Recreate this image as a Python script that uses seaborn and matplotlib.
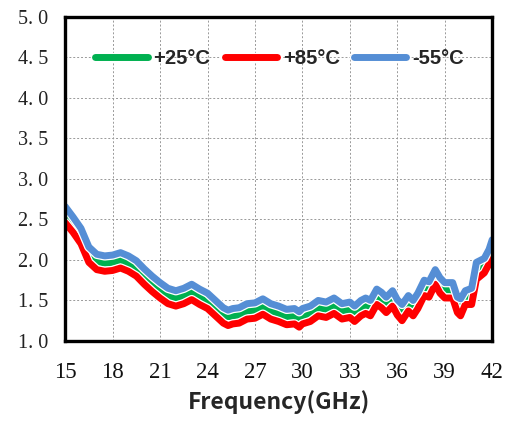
import matplotlib
matplotlib.use("Agg")
import matplotlib.pyplot as plt
import matplotlib.patheffects as pe
import seaborn as sns
import pandas as pd

freq = [15.0,15.5,16.0,16.5,17.0,17.5,18.0,18.5,19.0,19.5,
        20.0,20.5,21.0,21.5,22.0,22.5,23.0,23.5,24.0,24.5,
        25.0,25.3,25.6,26.0,26.5,27.0,27.5,28.0,28.5,29.0,
        29.5,29.8,30.0,30.5,31.0,31.5,32.0,32.5,33.0,33.3,
        33.7,34.0,34.3,34.7,35.0,35.3,35.7,36.0,36.3,36.7,
        37.0,37.3,37.7,38.0,38.4,38.7,39.0,39.5,39.8,40.0,
        40.3,40.7,41.0,41.5,41.8,42.0]

t25 = [2.57,2.44,2.30,2.07,1.98,1.96,1.97,2.00,1.96,1.90,
       1.80,1.71,1.63,1.56,1.53,1.56,1.61,1.55,1.50,1.41,
       1.32,1.29,1.31,1.32,1.37,1.38,1.43,1.37,1.34,1.30,
       1.31,1.27,1.31,1.34,1.41,1.39,1.44,1.37,1.39,1.34,
       1.41,1.44,1.41,1.55,1.51,1.45,1.53,1.42,1.36,1.47,
       1.41,1.50,1.66,1.64,1.80,1.69,1.63,1.63,1.45,1.42,
       1.53,1.55,1.88,1.93,2.03,2.13]

t85 = [2.46,2.34,2.20,1.97,1.88,1.86,1.87,1.90,1.86,1.80,
       1.70,1.61,1.53,1.46,1.43,1.46,1.51,1.45,1.40,1.31,
       1.22,1.19,1.21,1.22,1.27,1.28,1.33,1.27,1.24,1.20,
       1.21,1.17,1.21,1.24,1.31,1.29,1.34,1.27,1.29,1.24,
       1.31,1.34,1.31,1.45,1.41,1.35,1.43,1.32,1.25,1.37,
       1.31,1.40,1.56,1.54,1.70,1.59,1.53,1.53,1.35,1.31,
       1.45,1.45,1.76,1.84,1.95,2.05]

tm55 = [2.66,2.53,2.39,2.16,2.07,2.05,2.06,2.09,2.05,1.99,
        1.89,1.80,1.72,1.65,1.62,1.65,1.70,1.64,1.59,1.50,
        1.41,1.38,1.40,1.41,1.46,1.47,1.52,1.46,1.43,1.39,
        1.40,1.36,1.40,1.43,1.50,1.48,1.53,1.46,1.48,1.43,
        1.50,1.53,1.50,1.64,1.60,1.54,1.62,1.51,1.45,1.56,
        1.50,1.59,1.75,1.73,1.88,1.78,1.72,1.72,1.54,1.52,
        1.62,1.65,1.97,2.02,2.13,2.25]

series_names = ["+25°C", "+85°C", "-55°C"]
colors = ["#00B050", "#FF0000", "#558ED5"]
x_ticks = [15, 18, 21, 24, 27, 30, 33, 36, 39, 42]
y_ticks = [1.0, 1.5, 2.0, 2.5, 3.0, 3.5, 4.0, 4.5, 5.0]

df = pd.DataFrame({
    "freq": freq * 3,
    "val": t25 + t85 + tm55,
    "series": [series_names[0]] * len(freq) + [series_names[1]] * len(freq) + [series_names[2]] * len(freq),
})

sns.set_style("white")
fig = plt.figure(figsize=(5.09, 4.23), dpi=100)
ax = fig.add_axes([0.128, 0.194, 0.839, 0.766])

sns.lineplot(data=df, x="freq", y="val", hue="series", palette=colors,
             hue_order=series_names, linewidth=5.0, ax=ax, sort=False,
             legend=True)
for ln in ax.get_lines():
    ln.set_solid_joinstyle("round")
    ln.set_solid_capstyle("round")
    ln.set_path_effects([pe.Stroke(linewidth=6.8, foreground="white"), pe.Normal()])

ax.set_xlim(15, 42)
ax.set_ylim(1.0, 5.0)
ax.set_xticks(x_ticks)
ax.set_yticks(y_ticks)
ax.set_xticklabels([str(v) for v in x_ticks], fontfamily="Liberation Serif", fontsize=16.5, color="#111111")
ax.set_yticklabels([f"{v:.1f}".replace(".", ". ") for v in y_ticks], fontfamily="Liberation Serif", fontsize=14.5, color="#222222")
ax.grid(True, color="#999999", linestyle=(0, (2, 2)), linewidth=0.7)
ax.set_axisbelow(True)
for s in ax.spines.values():
    s.set_linewidth(2.4)
    s.set_color("black")
ax.tick_params(axis="both", direction="out", length=4, width=1.3, color="black")
ax.tick_params(axis="y", pad=8)
ax.tick_params(axis="x", pad=11)

ax.set_ylabel("")
ax.set_xlabel("Frequency(GHz)", fontfamily=["Noto Sans CJK SC", "DejaVu Sans"],
              fontweight="bold", fontsize=16.5, labelpad=5)

leg = ax.legend(loc="center", bbox_to_anchor=(0.502, 0.873), ncol=3, frameon=False,
                handlelength=2.6, handletextpad=0.3, columnspacing=0.7,
                prop={"family": "Liberation Sans", "weight": "bold", "size": 14.5})
for h in leg.get_lines():
    h.set_linewidth(5.0)
    h.set_solid_capstyle("round")

fig.savefig("out.png", dpi=100)
